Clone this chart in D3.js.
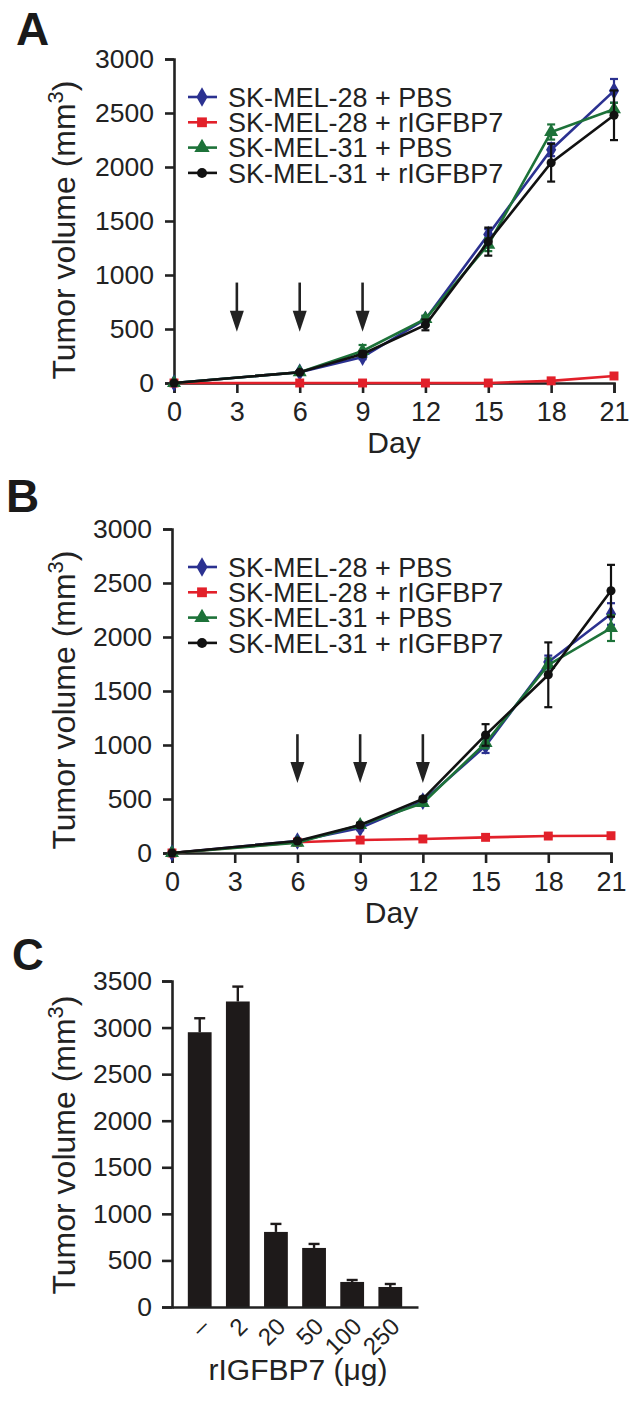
<!DOCTYPE html>
<html>
<head>
<meta charset="utf-8">
<script src="https://cdn.jsdelivr.net/npm/d3@7"></script>
<style>
  html, body { margin: 0; padding: 0; background: #fff; }
  svg { display: block; font-family: "Liberation Sans", Arial, Helvetica, sans-serif; }
</style>
</head>
<body>
<svg id="fig" width="632" height="1411"></svg>
<script>
// ---------- DATA ----------
const dayTicks = [0, 3, 6, 9, 12, 15, 18, 21];
const daysMeasured = [0, 6, 9, 12, 15, 18, 21];
const seriesNames = ["SK-MEL-28 + PBS", "SK-MEL-28 + rIGFBP7", "SK-MEL-31 + PBS", "SK-MEL-31 + rIGFBP7"];
const seriesColors = ["#2b3190", "#e2202a", "#1d7239", "#111111"];
const seriesSymbols = ["diamond", "square", "triangle", "circle"];
const volumeTicks = [0, 500, 1000, 1500, 2000, 2500, 3000];

// Panel A
const a28PBS    = [0, 100, 240, 590, 1375, 2160, 2705];
const a28rIG    = [0, 0, 0, 0, 0, 20, 65];
const a31PBS    = [0, 100, 297, 594, 1281, 2324, 2535];
const a31rIG    = [0, 100, 269, 538, 1309, 2040, 2479];
const a28PBSErr = [0, 10, 20, 30, 50, 60, 110];
const a28rIGErr = [0, 0, 0, 0, 0, 10, 10];
const a31PBSErr = [0, 10, 55, 30, 60, 70, 60];
const a31rIGErr = [0, 10, 25, 50, 130, 175, 230];
const arrowDaysA = [3, 6, 9];
const arrowFromA = 930, arrowToA = 475;

// Panel B
const b28PBS    = [0, 111, 231, 480, 991, 1768, 2213];
const b28rIG    = [0, 100, 120, 130, 145, 157, 160];
const b31PBS    = [0, 95, 259, 463, 1019, 1741, 2083];
const b31rIG    = [0, 111, 259, 500, 1093, 1650, 2428];
const b28PBSErr = [0, 10, 20, 20, 65, 60, 100];
const b28rIGErr = [0, 5, 5, 5, 5, 5, 5];
const b31PBSErr = [0, 10, 20, 20, 50, 60, 120];
const b31rIGErr = [0, 10, 20, 20, 100, 300, 240];
const arrowDaysB = [6, 9, 12];
const arrowFromB = 1100, arrowToB = 648;

// Panel C
const doseLabels = ["–", "2", "20", "50", "100", "250"];
const doseVolumes = [2950, 3280, 806, 634, 269, 215];
const doseErr = [150, 160, 86, 43, 21, 32];
const volumeTicksC = [0, 500, 1000, 1500, 2000, 2500, 3000, 3500];

// ---------- DRAW ----------
const svg = d3.select("#fig");
const symMap = { diamond: d3.symbolDiamond, square: d3.symbolSquare, triangle: d3.symbolTriangle, circle: d3.symbolCircle };
const symSize = { diamond: 90, square: 80, triangle: 85, circle: 65 };
const fmt = d3.format("d");

function yTitle(g, x, y) {
  const t = g.append("text").attr("transform", `translate(${x},${y}) rotate(-90)`)
    .attr("text-anchor", "middle").attr("font-size", 32).attr("fill", "#222");
  t.append("tspan").text("Tumor volume (mm");
  t.append("tspan").attr("dy", -12).attr("font-size", 22).text("3");
  t.append("tspan").attr("dy", 12).text(")");
}

function styleAxis(ax, fs) {
  ax.selectAll("path.domain").attr("stroke", "#222").attr("stroke-width", 2.6);
  ax.selectAll(".tick line").attr("stroke", "#222").attr("stroke-width", 2.6);
  ax.selectAll(".tick text").attr("font-size", fs).attr("fill", "#222")
    .attr("font-family", "'Liberation Sans', Arial, sans-serif");
}

function linePanel(opts) {
  const { x0, x1, yBot, yTop, series, errs, arrowDays, arrowFrom, arrowTo, letter, letterPos, legendTop, dayY, titleY } = opts;
  const g = svg.append("g");
  const x = d3.scaleLinear().domain([0, 21]).range([x0, x1]);
  const y = d3.scaleLinear().domain([0, 3000]).range([yBot, yTop]);

  const ay = g.append("g").attr("transform", `translate(${x0},0)`)
    .call(d3.axisLeft(y).tickValues(volumeTicks).tickFormat(fmt).tickSizeOuter(0).tickSize(9).tickPadding(11));
  styleAxis(ay, 26.5);
  const ax = g.append("g").attr("transform", `translate(0,${yBot})`)
    .call(d3.axisBottom(x).tickValues(dayTicks).tickFormat(fmt).tickSizeOuter(0).tickSize(10).tickPadding(9));
  styleAxis(ax, 27);

  g.append("text").attr("x", (x0 + x1) / 2).attr("y", dayY).attr("text-anchor", "middle")
    .attr("font-size", 30).attr("fill", "#222").text("Day");
  yTitle(g, 75, titleY);
  g.append("text").attr("x", letterPos[0]).attr("y", letterPos[1]).attr("font-size", 46)
    .attr("font-weight", "bold").attr("fill", "#1a1a1a").text(letter);

  // arrows
  arrowDays.forEach(d => {
    const ax_ = x(d), yt = y(arrowFrom), yb = y(arrowTo);
    g.append("line").attr("x1", ax_).attr("x2", ax_).attr("y1", yt).attr("y2", yb - 18)
      .attr("stroke", "#222").attr("stroke-width", 2.6);
    g.append("path").attr("d", `M${ax_ - 7},${yb - 21} L${ax_ + 7},${yb - 21} L${ax_},${yb} Z`).attr("fill", "#222");
  });

  // series
  series.forEach((vals, i) => {
    const pts = daysMeasured.map((d, j) => ({ d, v: vals[j], e: errs[i][j] }));
    const col = seriesColors[i];
    g.append("path").datum(pts).attr("fill", "none").attr("stroke", col).attr("stroke-width", 2.6)
      .attr("d", d3.line().x(p => x(p.d)).y(p => y(p.v)));
    pts.forEach(p => {
      if (p.e > 0) {
        const cx = x(p.d), t = y(p.v + p.e), b = y(Math.max(0, p.v - p.e));
        g.append("line").attr("x1", cx).attr("x2", cx).attr("y1", t).attr("y2", b).attr("stroke", col).attr("stroke-width", 2.2);
        [t, b].forEach(yy => g.append("line").attr("x1", cx - 4).attr("x2", cx + 4).attr("y1", yy).attr("y2", yy)
          .attr("stroke", col).attr("stroke-width", 2.2));
      }
    });
    g.selectAll(null).data(pts).enter().append("path")
      .attr("transform", p => `translate(${x(p.d)},${y(p.v)})`)
      .attr("d", d3.symbol().type(symMap[seriesSymbols[i]]).size(symSize[seriesSymbols[i]]))
      .attr("fill", col);
  });

  // legend
  seriesNames.forEach((name, i) => {
    const ly = legendTop + i * 25.3;
    g.append("line").attr("x1", 188).attr("x2", 217).attr("y1", ly).attr("y2", ly)
      .attr("stroke", seriesColors[i]).attr("stroke-width", 2.6);
    g.append("path").attr("transform", `translate(202,${ly})`)
      .attr("d", d3.symbol().type(symMap[seriesSymbols[i]]).size(symSize[seriesSymbols[i]] * 1.2))
      .attr("fill", seriesColors[i]);
    g.append("text").attr("x", 228).attr("y", ly).attr("dy", "0.36em").attr("font-size", 27)
      .attr("fill", "#222").text(name);
  });
}

linePanel({
  x0: 174, x1: 614, yBot: 383, yTop: 59,
  series: [a28PBS, a28rIG, a31PBS, a31rIG],
  errs: [a28PBSErr, a28rIGErr, a31PBSErr, a31rIGErr],
  arrowDays: arrowDaysA, arrowFrom: arrowFromA, arrowTo: arrowToA,
  letter: "A", letterPos: [16, 45], legendTop: 97, dayY: 453, titleY: 230
});

linePanel({
  x0: 172, x1: 611, yBot: 853, yTop: 529,
  series: [b28PBS, b28rIG, b31PBS, b31rIG],
  errs: [b28PBSErr, b28rIGErr, b31PBSErr, b31rIGErr],
  arrowDays: arrowDaysB, arrowFrom: arrowFromB, arrowTo: arrowToB,
  letter: "B", letterPos: [6, 512], legendTop: 567, dayY: 923, titleY: 700
});

// Panel C
(function () {
  const g = svg.append("g");
  const x = d3.scaleBand().domain(doseLabels).range([172, 418]).paddingInner(0.376).paddingOuter(0.415);
  const y = d3.scaleLinear().domain([0, 3500]).range([1307, 981]);

  g.selectAll(null).data(doseLabels).enter().append("rect")
    .attr("x", d => x(d)).attr("width", x.bandwidth())
    .attr("y", (d, i) => y(doseVolumes[i])).attr("height", (d, i) => y(0) - y(doseVolumes[i]))
    .attr("fill", "#1e1a1a");
  doseLabels.forEach((d, i) => {
    const cx = x(d) + x.bandwidth() / 2;
    const t = y(doseVolumes[i] + doseErr[i]);
    g.append("line").attr("x1", cx).attr("x2", cx).attr("y1", t).attr("y2", y(doseVolumes[i])).attr("stroke", "#1e1a1a").attr("stroke-width", 2.4);
    g.append("line").attr("x1", cx - 5.5).attr("x2", cx + 5.5).attr("y1", t).attr("y2", t).attr("stroke", "#1e1a1a").attr("stroke-width", 2.4);
  });

  const ay = g.append("g").attr("transform", "translate(172,0)")
    .call(d3.axisLeft(y).tickValues(volumeTicksC).tickFormat(fmt).tickSizeOuter(0).tickSize(10).tickPadding(10));
  styleAxis(ay, 26.5);
  const ax = g.append("g").attr("transform", "translate(0,1307)")
    .call(d3.axisBottom(x).tickSize(0).tickSizeOuter(0).tickPadding(0));
  styleAxis(ax, 24);
  ax.selectAll(".tick text")
    .attr("text-anchor", "end").attr("dy", null).attr("y", 0)
    .attr("transform", "translate(11,21) rotate(-45)");

  g.append("text").attr("x", 298).attr("y", 1380).attr("text-anchor", "middle")
    .attr("font-size", 30).attr("fill", "#222").text("rIGFBP7 (μg)");
  yTitle(g, 75, 1145);
  g.append("text").attr("x", 12).attr("y", 970).attr("font-size", 44)
    .attr("font-weight", "bold").attr("fill", "#1a1a1a").text("C");
})();
</script>
</body>
</html>
